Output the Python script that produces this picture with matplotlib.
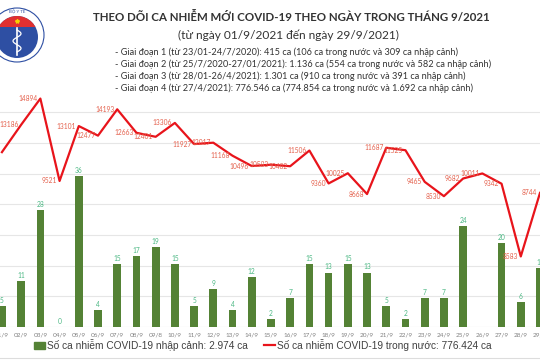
import numpy as np
import matplotlib
matplotlib.use("Agg")
import matplotlib.pyplot as plt
from matplotlib.patches import Patch, Circle, Rectangle
from matplotlib.lines import Line2D

plt.rcParams['font.family'] = ['Lato', 'DejaVu Sans']

days = ['01/9', '02/9', '03/9', '04/9', '05/9', '06/9', '07/9', '08/9', '09/8', '10/9',
        '11/9', '12/9', '13/9', '14/9', '15/9', '16/9', '17/9', '18/9', '19/9', '20/9',
        '21/9', '22/9', '23/9', '24/9', '25/9', '26/9', '27/9', '28/9', '29/9']

# ca nhap canh (cot)
imported = [5, 11, 28, 0, 36, 4, 15, 17, 19, 15,
            5, 9, 4, 12, 2, 7, 15, 13, 15, 13,
            5, 2, 7, 7, 24, np.nan, 20, 6, 14]

# ca trong nuoc (duong)
domestic = [11400, 13186, 14894, 9521, 13101, 12477, 14193, 12663, 12401, 13306,
            11927, 12017, 11168, 10496, 10583, 10482, 11506, 9360, 10025, 8668,
            11687, 11525, 9465, 8530, 9682, 10011, 9342, 4600, 8744]
domestic_labels = ['', '13186', '14894', '9521', '13101', '12477', '14193', '12663', '12401', '13306',
                   '11927', '12017', '11168', '10496', '10583', '10482', '11506', '9360', '10025', '8668',
                   '11687', '11525', '9465', '8530', '9682', '10011', '9342', '8583', '8744']

title = 'THEO DÕI CA NHIỄM MỚI COVID-19 THEO NGÀY TRONG THÁNG 9/2021'
subtitle = '(từ ngày 01/9/2021 đến ngày 29/9/2021)'
notes = ['- Giai đoạn 1 (từ 23/01-24/7/2020): 415 ca (106 ca trong nước và 309 ca nhập cảnh)',
         '- Giai đoạn 2 (từ 25/7/2020-27/01/2021): 1.136 ca (554 ca trong nước và 582 ca nhập cảnh)',
         '- Giai đoạn 3 (từ 28/01-26/4/2021): 1.301 ca (910 ca trong nước và 391 ca nhập cảnh)',
         '- Giai đoạn 4 (từ 27/4/2021): 776.546 ca (774.854 ca trong nước và 1.692 ca nhập cảnh)']
legend_labels = ['Số ca nhiễm COVID-19 nhập cảnh: 2.974 ca',
                 'Số ca nhiễm COVID-19 trong nước: 776.424 ca']

bar_color = '#548235'
line_color = '#e8141b'
bar_max = 58.6
line_max = 16000

fig = plt.figure(figsize=(5.4, 3.6), dpi=100)
fig.patch.set_facecolor('white')

ax = fig.add_axes([0, 33/360, 1, 245.4/360])
ax2 = ax.twinx()
x = np.arange(len(days))

# gridlines every 2000 cases of the line axis, drawn on the bar axis (under bars)
grid_vals = np.arange(2000, line_max, 2000)
ax.set_yticks(grid_vals * bar_max / line_max)
ax.tick_params(axis='y', length=0, labelleft=False)
ax.grid(axis='y', color='#e6e6e6', lw=0.8, zorder=0)
ax.set_axisbelow(True)

ax.bar(x, imported, width=0.4, color=bar_color, zorder=2)
for i, v in enumerate(imported):
    if np.isnan(v):
        continue
    ax.annotate(str(int(v)), (i, v), xytext=(0, 1.5), textcoords='offset points',
                ha='center', va='bottom', fontsize=4.8, color='#4cb884')

ax2.plot(x, domestic, color=line_color, lw=1.6, zorder=3)
for i, (v, lab) in enumerate(zip(domestic, domestic_labels)):
    ax2.annotate(lab, (i, v), xytext=(-2, 0), textcoords='offset points',
                 ha='right', va='center', fontsize=4.8, color='#e4604c')

ax.set_xlim(-0.10, 27.85)
ax.set_ylim(0, bar_max)
ax2.set_ylim(0, line_max)
ax2.set_yticks([])
ax2.patch.set_visible(False)

ax.set_xticks(x)
ax.set_xticklabels(days, fontsize=4.6, color='#808080')
ax.tick_params(axis='x', length=0, pad=4)
for a in (ax, ax2):
    for s in a.spines.values():
        s.set_visible(False)
ax.axhline(0, color='#d9d9d9', lw=0.8, zorder=1)

handles = [Patch(color=bar_color), Line2D([], [], color=line_color, lw=1.6)]
fig.legend(handles, legend_labels, loc='center', bbox_to_anchor=(0.487, 15/360), ncol=2,
           frameon=False, handlelength=1.1, handletextpad=0.2, columnspacing=1.6,
           prop={'family': ['Liberation Sans', 'DejaVu Sans'], 'size': 7.3},
           labelcolor='#404040')

fig.text(291/540, 1 - 17/360, title, ha='center', va='center', fontsize=8.3,
         fontweight='bold', color='#333333')
fig.text(288/540, 1 - 35/360, subtitle, ha='center', va='center', fontsize=8.6, color='#333333')
for k, line in enumerate(notes):
    fig.text(115/540, 1 - (52 + 12 * k)/360, line, ha='left', va='center',
             fontsize=6.6, color='#333333')

# logo Bo Y te
lg = fig.add_axes([0, 0, 1, 1])
lg.set_xlim(0, 540)
lg.set_ylim(360, 0)
lg.axis('off')
lg.patch.set_visible(False)
lg.add_patch(Circle((17, 35), 27, facecolor='white', edgecolor='#2e4fa3', lw=0.8))
lg.add_patch(Circle((17, 37), 21, facecolor='#2e4fa3', edgecolor='none'))
red = Circle((17, 37), 21, facecolor='#e03030', edgecolor='none')
lg.add_patch(red)
clip = Rectangle((-10, 0), 60, 27, transform=lg.transData)
red.set_clip_path(clip)
lg.plot([17, 17], [28, 55], color='white', lw=1.2)
ts = np.linspace(0, 1, 40)
lg.plot(17 + 4 * np.sin(ts * 3 * np.pi), 30 + 22 * ts, color='white', lw=0.9)
lg.plot([17], [21], marker='*', color='#f5d000', ms=3)
lg.text(17, 11, 'BỘ Y TẾ', ha='center', va='center', fontsize=3.2, color='#2e4fa3')
lg.plot([0, 540], [358, 358], color='#dddddd', lw=0.8)

fig.savefig('out.png', dpi=100)
